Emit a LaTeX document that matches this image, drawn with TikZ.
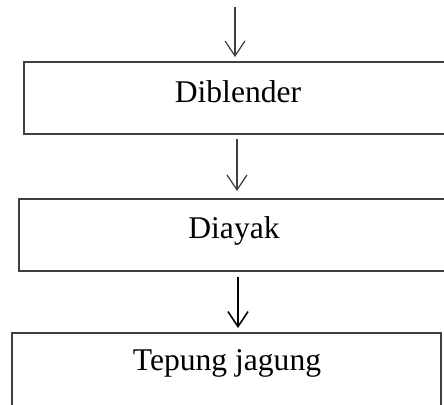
\documentclass[tikz,border=0pt]{standalone}
\usepackage{fontspec}
\setmainfont{Liberation Serif}
\usetikzlibrary{arrows.meta}
\begin{document}
\begin{tikzpicture}[x=0.5pt,y=-0.5pt,
  boxline/.style={draw=black!75,line width=0.6pt},
  lbl/.style={anchor=base,inner sep=0pt,font=\fontsize{15.8pt}{18pt}\selectfont},
  flow/.style={draw=black!75,line width=0.6pt,-{Straight Barb[length=7.5pt,width=10pt]}}]
\useasboundingbox (0,0) rectangle (444,404);
% boxes
\draw[boxline] (24,62) rectangle (447,134);
\draw[boxline] (19,199) rectangle (447,271);
\draw[boxline] (12,333) rectangle (441,406);
% texts
\node[lbl] (t1) at (238,102) {Diblender};
\node[lbl] (t2) at (234,238) {Diayak};
\node[lbl] (t3) at (227,370) {Tepung jagung};
% arrow coordinates
\coordinate (a1s) at (235,7);   \coordinate (a1e) at (235,57);
\coordinate (a2s) at (237,139); \coordinate (a2e) at (237,191);
\coordinate (a3s) at (238,277); \coordinate (a3e) at (238,328);
\draw[flow] (a1s) -- (a1e);
\draw[flow] (a2s) -- (a2e);
\draw[flow,draw=black,line width=0.8pt] (a3s) -- (a3e);
\end{tikzpicture}
\end{document}
